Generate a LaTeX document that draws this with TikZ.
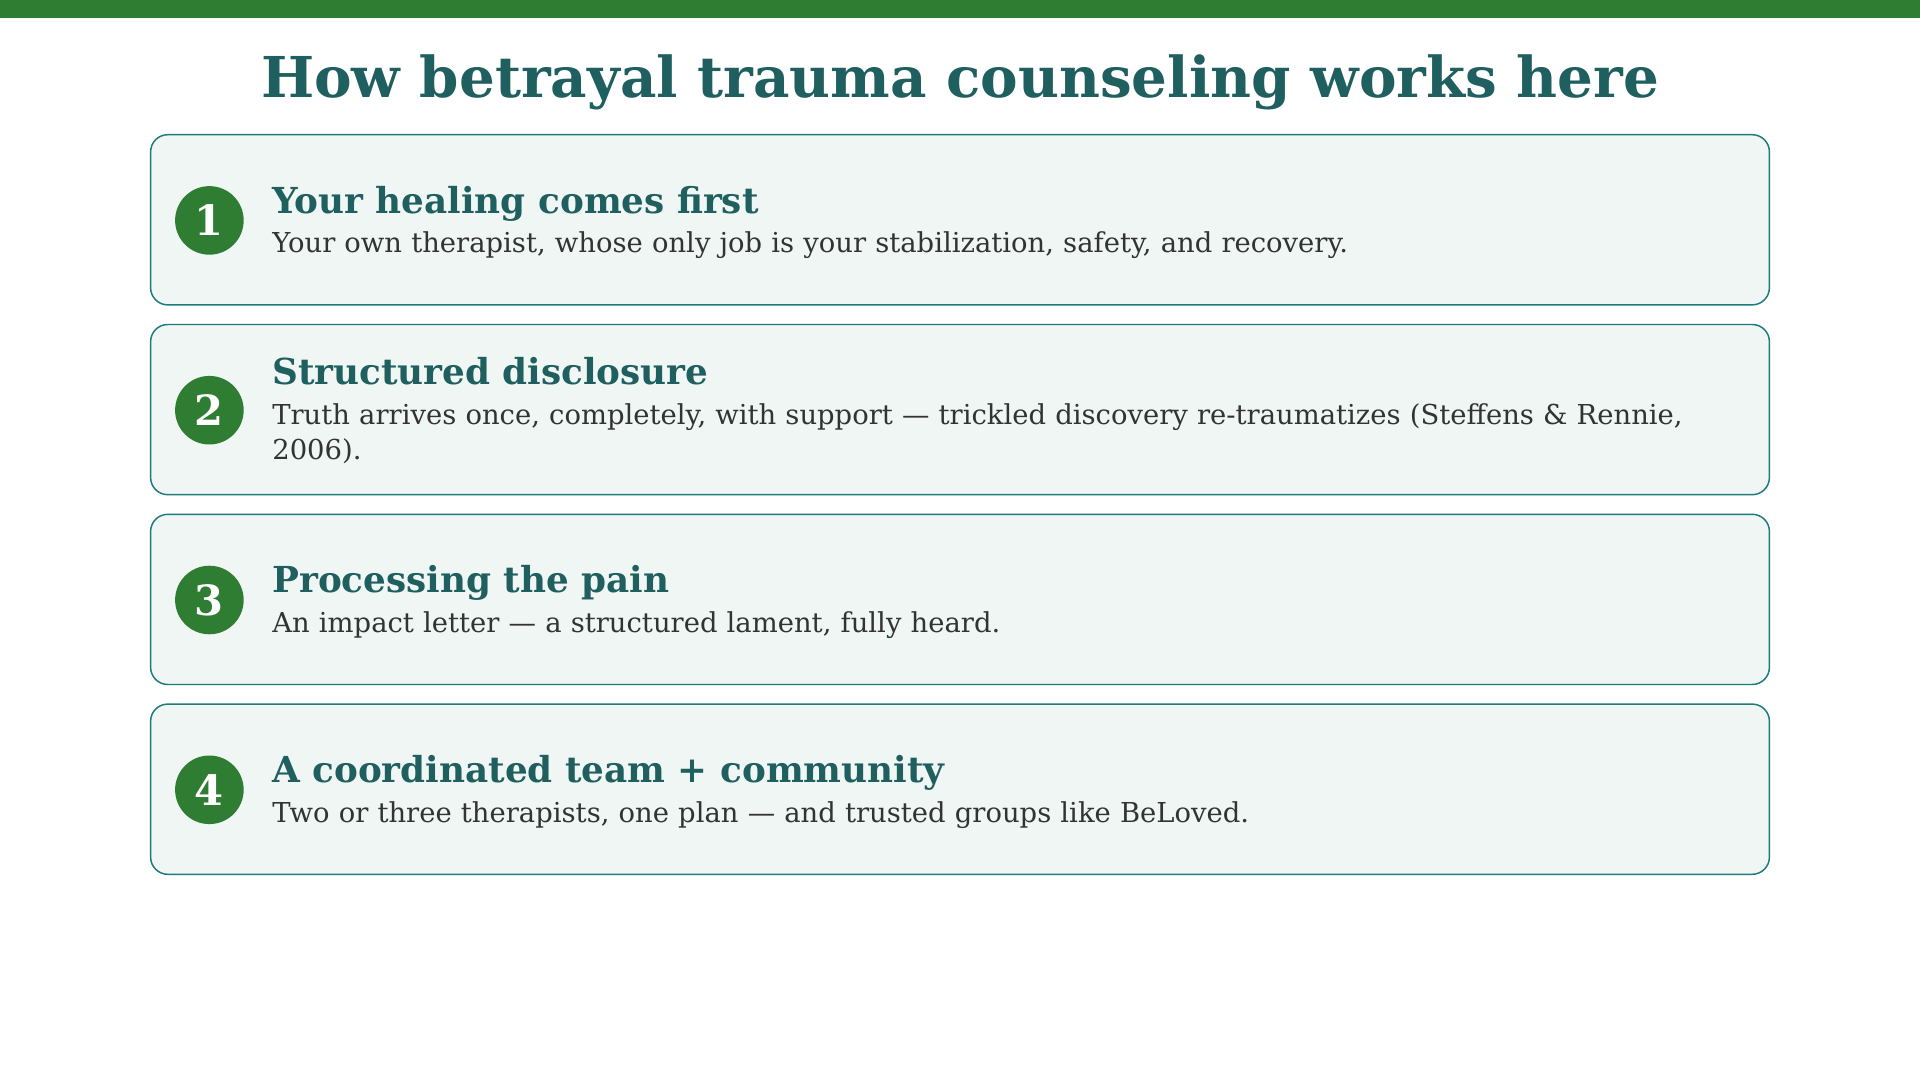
\documentclass[tikz,border=0pt]{standalone}
\usepackage{fontspec}
\setmainfont{DejaVu Serif}
\definecolor{bar}{HTML}{2E7D32}
\definecolor{teal}{HTML}{1F5F5F}
\definecolor{boxfill}{HTML}{EFF6F3}
\definecolor{boxline}{HTML}{1F7A7A}
\definecolor{body}{HTML}{333333}
\begin{document}
\begin{tikzpicture}[x=0.5pt,y=-0.5pt,
  card/.style={draw=boxline,fill=boxfill,line width=0.6pt,rounded corners=7pt},
  num/.style={circle,fill=bar,minimum size=28pt,inner sep=0pt,text=white,font=\fontsize{17}{17}\selectfont\bfseries},
  head/.style={anchor=base west,inner sep=0pt,text=teal,font=\fontsize{14.6}{14.6}\selectfont\bfseries},
  txt/.style={anchor=north west,inner sep=0pt,text=body,text width=590pt,align=left,font=\fontsize{11.2}{14.5}\selectfont}]
\useasboundingbox (0,0) rectangle (1568,882);
\fill[bar] (0,0) rectangle (1568,15);
\node[text=teal,font=\fontsize{23}{23}\selectfont\bfseries,inner sep=0pt] (title) at (784,67) {How betrayal trauma counseling works here};
\foreach \i/\t/\o/\h/\b in {
 1/110/0/{Your healing comes first}/{Your own therapist, whose only job is your stabilization, safety, and recovery.},
 2/265/-15/{Structured disclosure}/{Truth arrives once, completely, with support — trickled discovery re-traumatizes (Steffens \& Rennie, 2006).},
 3/420/0/{Processing the pain}/{An impact letter — a structured lament, fully heard.},
 4/575/0/{A coordinated team + community}/{Two or three therapists, one plan — and trusted groups like BeLoved.}}{
  \draw[card] (123,\t) rectangle (1445,\t+139);
  \node[num] (n\i) at (171,\t+70) {\i};
  \node[head] (h\i) at (222,\t+64+\o) {\h};
  \node[txt] (b\i) at (222,\t+79+\o) {\b};
}
\end{tikzpicture}
\end{document}
